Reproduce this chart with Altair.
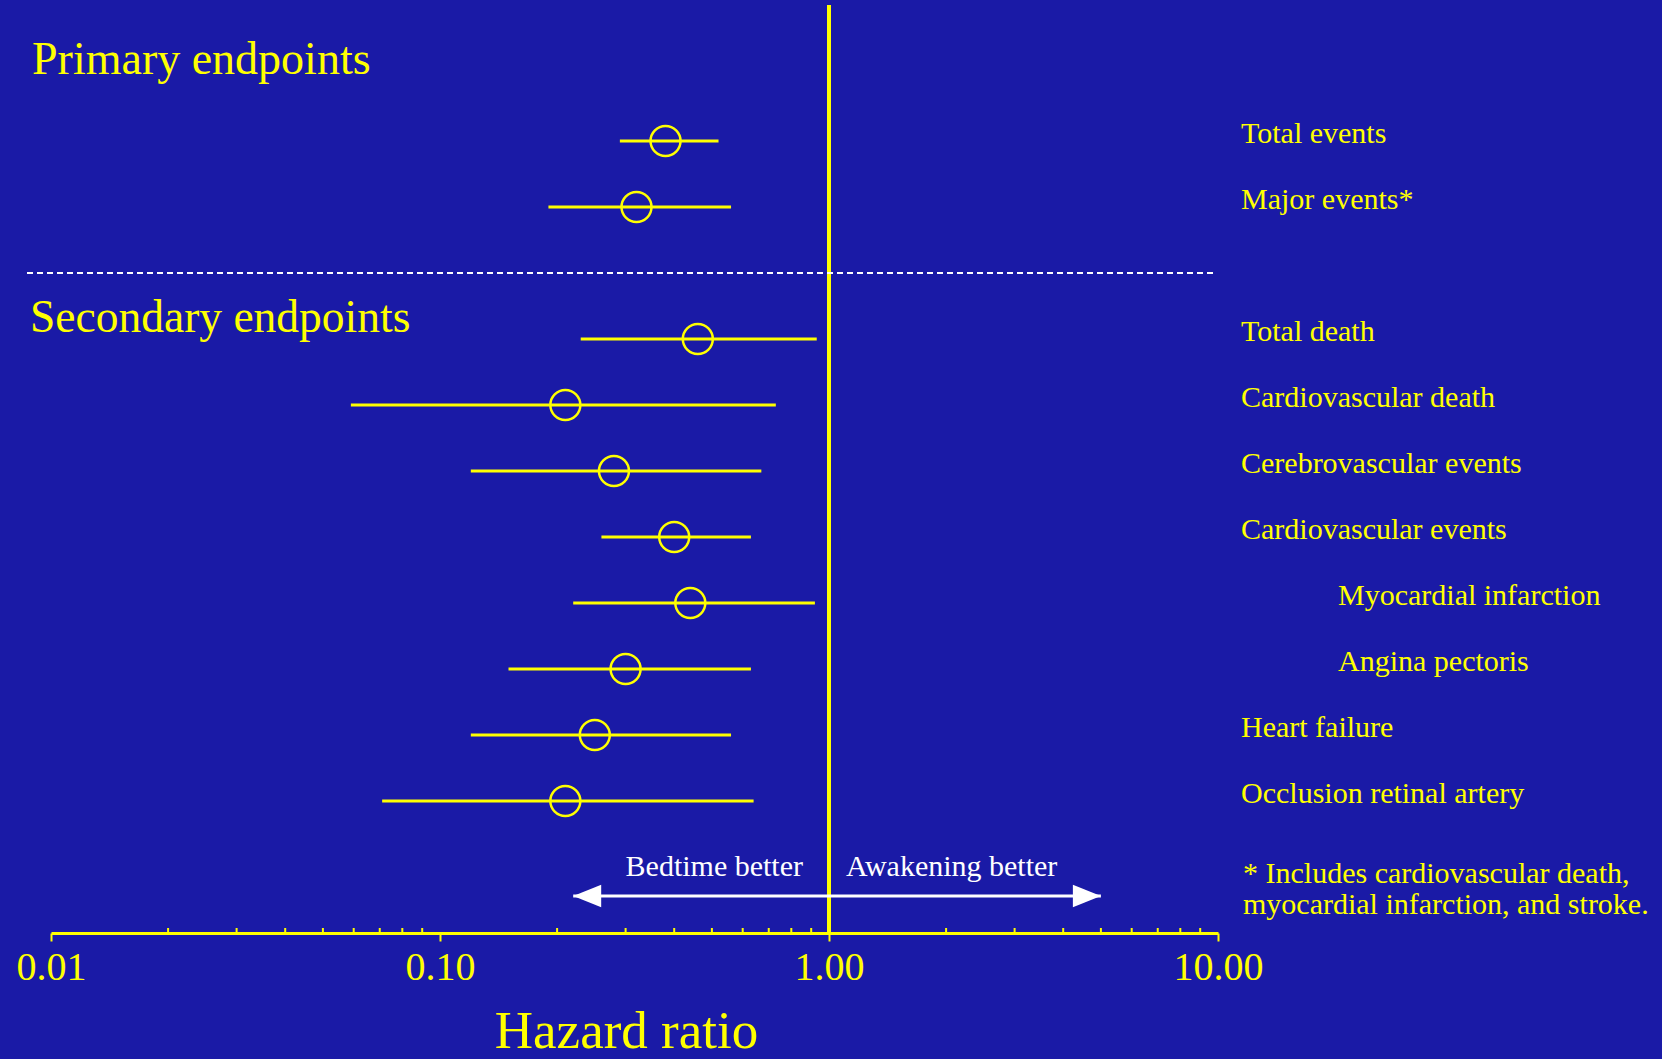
import altair as alt
import pandas as pd

# ---- data ----
endpoints = ["Total events", "Major events*", "Total death", "Cardiovascular death",
             "Cerebrovascular events", "Cardiovascular events", "Myocardial infarction",
             "Angina pectoris", "Heart failure", "Occlusion retinal artery"]
row = [0, 1, 3, 4, 5, 6, 7, 8, 9, 10]
level = [0, 0, 0, 0, 0, 0, 1, 1, 0, 0]  # 1 = sub-item of cardiovascular events
hr = [0.38, 0.32, 0.46, 0.21, 0.28, 0.40, 0.44, 0.30, 0.25, 0.21]
ci_low = [0.29, 0.19, 0.23, 0.059, 0.12, 0.26, 0.22, 0.15, 0.12, 0.071]
ci_high = [0.52, 0.56, 0.93, 0.73, 0.67, 0.63, 0.92, 0.63, 0.56, 0.64]

major_ticks = [0.01, 0.1, 1, 10]
minor_ticks = [0.02, 0.03, 0.04, 0.05, 0.06, 0.07, 0.08, 0.09,
               0.2, 0.3, 0.4, 0.5, 0.6, 0.7, 0.8, 0.9,
               2, 3, 4, 5, 6, 7, 8, 9]
reference_hr = [1.0]
separator_row = [2]
arrow_from = [0.22]
arrow_to = [5.0]
section_titles = ["Primary endpoints", "Secondary endpoints"]
direction_left = "Bedtime better"
direction_right = "Awakening better"
footnote = ["* Includes cardiovascular death,", "myocardial infarction, and stroke."]

# ---- styling ----
BG = "#1A1AA6"
YEL = "#FFFF00"
WHITE = "#FFFFFF"
FONT = "Liberation Serif"
W, H = 1167, 924

df = pd.DataFrame({"endpoint": endpoints, "row": row, "level": level,
                   "hr": hr, "lo": ci_low, "hi": ci_high})

x_scale = alt.Scale(type="log", domain=[0.01, 10], nice=False)
y_scale = alt.Scale(domain=[-2, 12], reverse=True, nice=False, zero=False)

x_axis = alt.Axis(values=major_ticks, format=".2f", grid=False,
                  title="Hazard ratio", titleFont=FONT, titleFontSize=53,
                  titleFontWeight="normal", titleColor=YEL, titleX=575, titleY=114,
                  titleBaseline="alphabetic", titleAlign="center",
                  labelFont=FONT, labelFontSize=40, labelColor=YEL, labelPadding=6,
                  labelFlush=False, labelOverlap=False,
                  domainColor=YEL, domainWidth=3, tickColor=YEL, tickWidth=2, tickSize=8)


def X(field):
    return alt.X(field, type="quantitative", scale=x_scale, axis=x_axis)


def Y(field):
    return alt.Y(field, type="quantitative", scale=y_scale, axis=None)


base = alt.Chart(df)

errbars = base.mark_rule(color=YEL, strokeWidth=3).encode(
    x=X("lo"), x2="hi", y=Y("row"))

points = base.mark_point(shape="circle", filled=False, color=YEL, strokeWidth=2.5,
                         size=900, opacity=1).encode(x=X("hr"), y=Y("row"))

labels_main = base.transform_filter("datum.level == 0").mark_text(
    align="left", baseline="alphabetic", dy=2, font=FONT, fontSize=30, color=YEL
).encode(x=alt.value(1190), y=Y("row"), text="endpoint")

labels_sub = base.transform_filter("datum.level == 1").mark_text(
    align="left", baseline="alphabetic", dy=2, font=FONT, fontSize=30, color=YEL
).encode(x=alt.value(1287), y=Y("row"), text="endpoint")

vline = alt.Chart(pd.DataFrame({"ref": reference_hr})).mark_rule(
    color=YEL, strokeWidth=4).encode(x=X("ref"), y=alt.value(-4), y2=alt.value(H))

sep = alt.Chart(pd.DataFrame({"r": separator_row})).mark_rule(
    color=WHITE, strokeWidth=2, strokeDash=[6, 4]).encode(
    y=Y("r"), x=alt.value(-24), x2=alt.value(1163))

minor = alt.Chart(pd.DataFrame({"t": minor_ticks})).mark_rule(
    color=YEL, strokeWidth=2).encode(x=X("t"), y=alt.value(H - 5), y2=alt.value(H))

arrow_df = pd.DataFrame({"a": arrow_from, "b": arrow_to})
shaft = alt.Chart(arrow_df).mark_rule(color=WHITE, strokeWidth=3).encode(
    x=X("a"), x2="b", y=alt.value(887))
head_left = alt.Chart(arrow_df).mark_point(
    shape="M0,0L2,-0.8L2,0.8Z", filled=True, color=WHITE, size=784, opacity=1,
    strokeWidth=0).encode(x=X("a"), y=alt.value(887))
head_right = alt.Chart(arrow_df).mark_point(
    shape="M0,0L-2,-0.8L-2,0.8Z", filled=True, color=WHITE, size=784, opacity=1,
    strokeWidth=0).encode(x=X("b"), y=alt.value(887))

txt_left = alt.Chart(pd.DataFrame({"t": [direction_left]})).mark_text(
    align="right", baseline="alphabetic", font=FONT, fontSize=30, color=WHITE
).encode(text="t", x=alt.value(752), y=alt.value(867))
txt_right = alt.Chart(pd.DataFrame({"t": [direction_right]})).mark_text(
    align="left", baseline="alphabetic", font=FONT, fontSize=30, color=WHITE
).encode(text="t", x=alt.value(795), y=alt.value(867))

title1 = alt.Chart(pd.DataFrame({"t": [section_titles[0]]})).mark_text(
    align="left", baseline="alphabetic", font=FONT, fontSize=46, color=YEL
).encode(text="t", x=alt.value(-19), y=alt.value(65))
title2 = alt.Chart(pd.DataFrame({"t": [section_titles[1]]})).mark_text(
    align="left", baseline="alphabetic", font=FONT, fontSize=45.5, color=YEL
).encode(text="t", x=alt.value(-21), y=alt.value(323))

foot1 = alt.Chart(pd.DataFrame({"t": [footnote[0]]})).mark_text(
    align="left", baseline="alphabetic", font=FONT, fontSize=30, color=YEL
).encode(text="t", x=alt.value(1192), y=alt.value(874))
foot2 = alt.Chart(pd.DataFrame({"t": [footnote[1]]})).mark_text(
    align="left", baseline="alphabetic", font=FONT, fontSize=30, color=YEL
).encode(text="t", x=alt.value(1192), y=alt.value(905))

chart = alt.layer(
    errbars, points, vline, sep, minor, shaft, head_left, head_right,
    labels_main, labels_sub, txt_left, txt_right, title1, title2, foot1, foot2
).properties(
    width=W, height=H, autosize="none",
    padding={"left": 51, "top": 9, "right": 444, "bottom": 126},
    background=BG
).configure_view(stroke=None)

chart.save("out.html", embed_options={"renderer": "svg", "actions": False})
